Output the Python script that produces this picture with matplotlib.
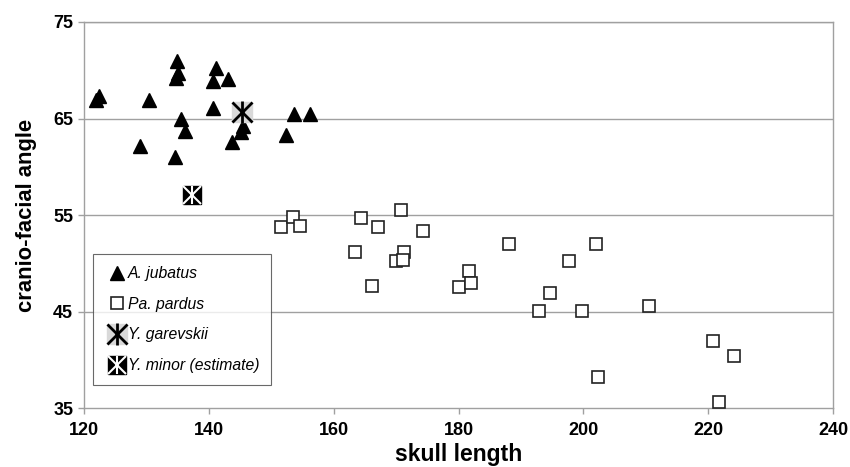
import matplotlib
matplotlib.use('Agg')
import matplotlib.pyplot as plt
from matplotlib.legend_handler import HandlerTuple

plt.rcParams['font.family'] = ['Liberation Sans', 'DejaVu Sans']

# A. jubatus (skull length, cranio-facial angle)
jub_x = [122.3, 121.9, 130.4, 134.8, 135.0, 134.7, 141.1, 140.6, 143.0, 140.7,
         135.5, 136.2, 128.9, 134.6, 143.6, 145.5, 145.1, 153.6, 156.2, 152.3]
jub_y = [67.3, 66.9, 66.9, 71.0, 69.7, 69.2, 70.2, 68.9, 69.1, 66.1,
         64.9, 63.7, 62.2, 61.0, 62.6, 64.2, 63.6, 65.5, 65.5, 63.3]

# Pa. pardus
par_x = [151.6, 153.4, 154.6, 164.3, 170.7, 167.1, 174.3, 163.4, 171.2, 170.0,
         171.0, 166.1, 188.1, 202.0, 197.7, 181.7, 180.0, 182.0, 194.7, 192.8,
         199.7, 210.5, 220.8, 224.2, 221.8, 202.4]
par_y = [53.8, 54.8, 53.9, 54.7, 55.5, 53.8, 53.3, 51.2, 51.2, 50.2,
         50.3, 47.6, 52.0, 52.0, 50.2, 49.2, 47.5, 48.0, 46.9, 45.1,
         45.1, 45.6, 41.9, 40.4, 35.6, 38.2]

# Y. garevskii and Y. minor (estimate)
gar_x = [145.3]
gar_y = [65.7]
min_x = [137.2]
min_y = [57.1]

x_ticks = [120, 140, 160, 180, 200, 220, 240]
y_ticks = [35, 45, 55, 65, 75]

fig = plt.figure(figsize=(8.5, 4.67), dpi=100)
ax = fig.add_axes([0.0992, 0.1263, 0.8808, 0.8266])

grid_c = '#a0a0a0'
for y in y_ticks[1:]:
    ax.axhline(y, color=grid_c, lw=1.0, zorder=1)

h_jub, = ax.plot(jub_x, jub_y, ls='none', marker='^', ms=10, color='black', zorder=3)
h_par, = ax.plot(par_x, par_y, ls='none', marker='s', ms=8.6, mfc='white',
                 mec='#222222', mew=1.2, zorder=3)

g1, = ax.plot(gar_x, gar_y, ls='none', marker='s', ms=14, mfc='#d9d9d9', mec='#d9d9d9', zorder=4)
g2, = ax.plot(gar_x, gar_y, ls='none', marker='x', ms=14, mec='black', mew=2, zorder=5)
g3, = ax.plot(gar_x, gar_y, ls='none', marker='|', ms=15.5, mec='black', mew=2, zorder=5)

m1, = ax.plot(min_x, min_y, ls='none', marker='s', ms=13, mfc='black', mec='black', zorder=4)
m2, = ax.plot(min_x, min_y, ls='none', marker='x', ms=13, mec='white', mew=1.5, zorder=5)
m3, = ax.plot(min_x, min_y, ls='none', marker='|', ms=13, mec='white', mew=1.5, zorder=5)

ax.set_xlim(120, 240)
ax.set_ylim(35, 75)
ax.set_xticks(x_ticks)
ax.set_yticks(y_ticks)
for s in ax.spines.values():
    s.set_color(grid_c)
    s.set_linewidth(1.0)
ax.tick_params(direction='out', length=4, width=1, color=grid_c)
ax.tick_params(axis='x', pad=6)
ax.tick_params(axis='y', pad=4)
for lab in ax.get_xticklabels() + ax.get_yticklabels():
    lab.set_fontsize(13)
    lab.set_fontweight('bold')

ax.set_xlabel('skull length', fontsize=16.5, fontweight='bold', labelpad=3)
ax.set_ylabel('cranio-facial angle', fontsize=15.8, fontweight='bold', labelpad=12)

leg = ax.legend([h_jub, h_par, (g1, g2, g3), (m1, m2, m3)],
                ['A. jubatus', 'Pa. pardus', 'Y. garevskii', 'Y. minor (estimate)'],
                handler_map={tuple: HandlerTuple(ndivide=1)},
                loc='lower left', bbox_to_anchor=(0.012, 0.06),
                prop={'style': 'italic', 'size': 11.3},
                frameon=True, fancybox=False, edgecolor='#444444',
                handlelength=1.5, handletextpad=-0.05, labelspacing=1.0,
                borderpad=0.75, borderaxespad=0)
leg.get_frame().set_linewidth(0.8)

fig.savefig('out.png', dpi=100)
